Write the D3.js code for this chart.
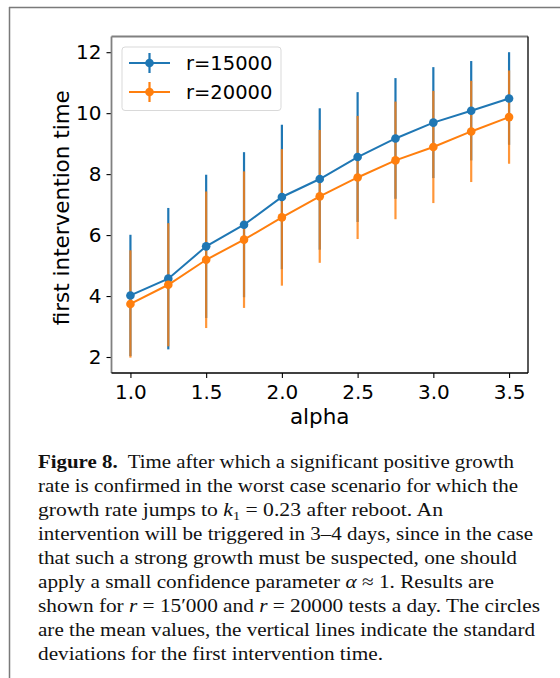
<!DOCTYPE html>
<html>
<head>
<meta charset="utf-8">
<script src="https://cdn.jsdelivr.net/npm/d3@7"></script>
<style>
  html, body { margin: 0; padding: 0; background: #fff; }
  svg { display: block; }
</style>
</head>
<body>
<script>
// alpha values on the x axis
const alphas = [1.0, 1.25, 1.5, 1.75, 2.0, 2.25, 2.5, 2.75, 3.0, 3.25, 3.5];
// mean first intervention time and standard deviation, r = 15000
const mean15000 = [4.02, 4.57, 5.63, 6.34, 7.25, 7.84, 8.56, 9.17, 9.69, 10.08, 10.48];
const std15000  = [1.99, 2.32, 2.35, 2.38, 2.37, 2.32, 2.13, 1.98, 1.82, 1.63, 1.52];
// mean first intervention time and standard deviation, r = 20000
const mean20000 = [3.74, 4.37, 5.19, 5.85, 6.58, 7.27, 7.89, 8.45, 8.89, 9.40, 9.87];
const std20000  = [1.76, 2.02, 2.24, 2.24, 2.24, 2.18, 2.02, 1.93, 1.84, 1.66, 1.53];
// axis ticks
const xTicks = [1.0, 1.5, 2.0, 2.5, 3.0, 3.5];
const yTicks = [2, 4, 6, 8, 10, 12];
const seriesNames = ["r=15000", "r=20000"];

// caption lines; segments are [text, style] with style: b = bold, i = italic, s = subscript
const captionLines = [
  [["Figure 8.", "b"], ["  Time after which a significant positive growth", ""]],
  [["rate is confirmed in the worst case scenario for which the", ""]],
  [["growth rate jumps to ", ""], ["k", "i"], ["1", "s"], [" = 0.23 after reboot. An", "u"]],
  [["intervention will be triggered in 3\u20134 days, since in the case", ""]],
  [["that such a strong growth must be suspected, one should", ""]],
  [["apply a small confidence parameter ", ""], ["\u03b1", "i"], [" \u2248 1. Results are", ""]],
  [["shown for ", ""], ["r", "i"], [" = 15\u2032000 and ", ""], ["r", "i"], [" = 20000 tests a day. The circles", ""]],
  [["are the mean values, the vertical lines indicate the standard", ""]],
  [["deviations for the first intervention time.", ""]]
];
const captionEnds = [514, 518, 443, 533, 517, 494, 540, 535, 383];

const W = 560, H = 678;
const svg = d3.select("body").append("svg").attr("width", W).attr("height", H);

// page frame lines
svg.append("line").attr("x1", 9).attr("y1", 7.5).attr("x2", W).attr("y2", 7.5)
  .attr("stroke", "#7a7a7a").attr("stroke-width", 1.5);
svg.append("line").attr("x1", 9.5).attr("y1", 7).attr("x2", 9.5).attr("y2", H)
  .attr("stroke", "#7a7a7a").attr("stroke-width", 1.5);

const plot = { left: 111.5, right: 528, top: 36.5, bottom: 373 };
const x = d3.scaleLinear().domain([0.875, 3.625]).range([plot.left, plot.right]);
const y = d3.scaleLinear().domain([1.475, 12.515]).range([plot.bottom, plot.top]);

const colors = ["#1f77b4", "#ff7f0e"];
const series = [
  { name: seriesNames[0], mean: mean15000, std: std15000, color: colors[0], ebOpacity: 1 },
  { name: seriesNames[1], mean: mean20000, std: std20000, color: colors[1], ebOpacity: 0.82 }
];

const font = "DejaVu Sans, sans-serif";

// axes
const xAxis = svg.append("g").attr("transform", `translate(0,${plot.bottom})`)
  .call(d3.axisBottom(x).tickValues(xTicks).tickFormat(d3.format(".1f")).tickSize(5).tickPadding(7));
const yAxis = svg.append("g").attr("transform", `translate(${plot.left},0)`)
  .call(d3.axisLeft(y).tickValues(yTicks).tickFormat(d3.format("d")).tickSize(5).tickPadding(5));
[xAxis, yAxis].forEach(g => {
  g.select(".domain").remove();
  g.selectAll(".tick line").attr("stroke", "#000").attr("stroke-width", 1.1);
  g.selectAll(".tick text").attr("font-family", font).attr("font-size", 20).attr("fill", "#000");
});

// data
series.forEach(s => {
  const g = svg.append("g");
  g.selectAll("line.eb").data(alphas).join("line")
    .attr("x1", d => x(d)).attr("x2", d => x(d))
    .attr("y1", (d, i) => y(s.mean[i] - s.std[i]))
    .attr("y2", (d, i) => y(s.mean[i] + s.std[i]))
    .attr("stroke", s.color).attr("stroke-width", 2.2).attr("stroke-opacity", s.ebOpacity);
});
series.forEach(s => {
  const g = svg.append("g");
  const line = d3.line().x((d, i) => x(alphas[i])).y(d => y(d));
  g.append("path").datum(s.mean).attr("d", line)
    .attr("fill", "none").attr("stroke", s.color).attr("stroke-width", 2);
  g.selectAll("circle").data(s.mean).join("circle")
    .attr("cx", (d, i) => x(alphas[i])).attr("cy", d => y(d)).attr("r", 4.3)
    .attr("fill", s.color);
});

// spines
svg.append("line").attr("x1", plot.left).attr("x2", plot.left).attr("y1", plot.top).attr("y2", plot.bottom)
  .attr("stroke", "#808080").attr("stroke-width", 1.8);
svg.append("line").attr("x1", plot.left).attr("x2", plot.right).attr("y1", plot.top).attr("y2", plot.top)
  .attr("stroke", "#808080").attr("stroke-width", 1.8);
svg.append("line").attr("x1", plot.right).attr("x2", plot.right).attr("y1", plot.top).attr("y2", plot.bottom)
  .attr("stroke", "#000").attr("stroke-width", 1.3);
svg.append("line").attr("x1", plot.left).attr("x2", plot.right).attr("y1", plot.bottom).attr("y2", plot.bottom)
  .attr("stroke", "#000").attr("stroke-width", 1.3);

// axis labels
svg.append("text").attr("x", (plot.left + plot.right) / 2).attr("y", 424)
  .attr("text-anchor", "middle").attr("font-family", font).attr("font-size", 21.5).text("alpha");
svg.append("text").attr("transform", `translate(69,${(plot.top + plot.bottom) / 2 + 3}) rotate(-90)`)
  .attr("text-anchor", "middle").attr("font-family", font).attr("font-size", 21.5)
  .text("first intervention time");

// legend
const leg = svg.append("g");
leg.append("rect").attr("x", 122).attr("y", 47).attr("width", 159).attr("height", 63.5).attr("rx", 3)
  .attr("fill", "#fff").attr("fill-opacity", 0.8).attr("stroke", "#d9d9d9").attr("stroke-width", 1);
series.forEach((s, k) => {
  const cy = 63 + k * 29;
  leg.append("line").attr("x1", 129).attr("x2", 170).attr("y1", cy).attr("y2", cy)
    .attr("stroke", s.color).attr("stroke-width", 2);
  leg.append("line").attr("x1", 149.5).attr("x2", 149.5).attr("y1", cy - 10).attr("y2", cy + 10)
    .attr("stroke", s.color).attr("stroke-width", 2.2);
  leg.append("circle").attr("cx", 149.5).attr("cy", cy).attr("r", 4.3).attr("fill", s.color);
  leg.append("text").attr("x", 186).attr("y", cy + 7).attr("font-family", font).attr("font-size", 19.5)
    .text(s.name);
});

// caption
const cap = svg.append("g").attr("font-family", "Liberation Serif, Times New Roman, serif")
  .attr("font-size", 18.5).attr("fill", "#111");
captionLines.forEach((segs, i) => {
  const t = cap.append("text").attr("x", 38).attr("y", 467.5 + i * 24.05)
    .attr("textLength", captionEnds[i] - 38).attr("lengthAdjust", "spacingAndGlyphs")
    .attr("xml:space", "preserve");
  segs.forEach(([txt, st]) => {
    const ts = t.append("tspan").text(txt);
    if (st === "b") ts.attr("font-weight", "bold");
    if (st === "i") ts.attr("font-style", "italic");
    if (st === "s") ts.attr("font-size", 12).attr("dy", 4);
    if (st === "u") ts.attr("dy", -4);
  });
});
</script>
</body>
</html>
